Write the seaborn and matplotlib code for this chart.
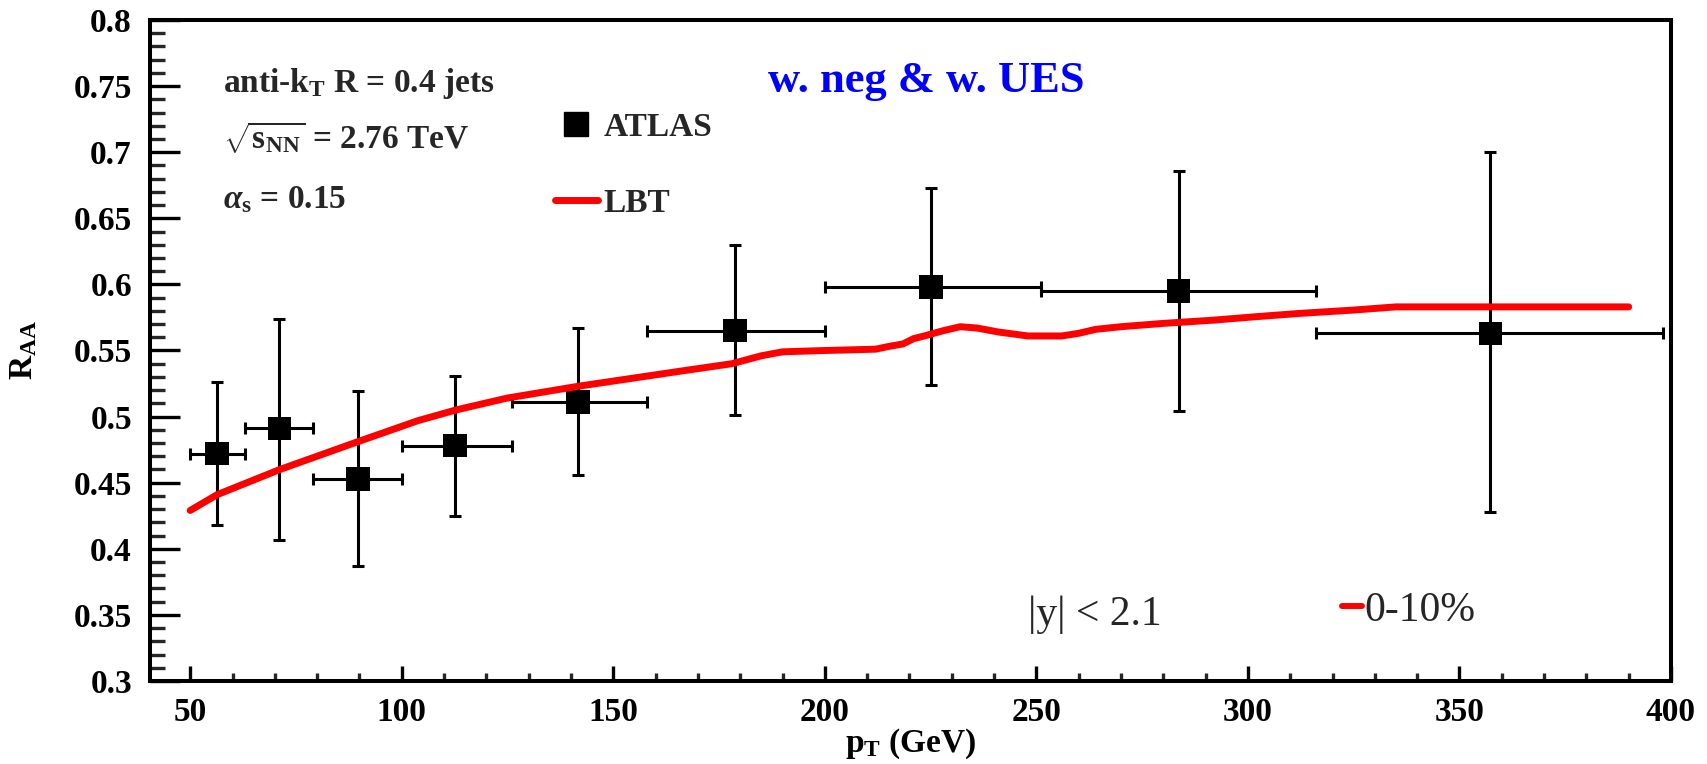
import matplotlib
matplotlib.use("Agg")
import matplotlib.pyplot as plt
from matplotlib.lines import Line2D
from matplotlib.ticker import MultipleLocator, FormatStrFormatter
import pandas as pd
import seaborn as sns

# ATLAS jet R_AA, 0-10% centrality, anti-kT R = 0.4, |y| < 2.1
pt_edges = [50, 63, 79, 100, 126, 158, 200, 251, 316, 398]
pt_atlas = [56.4, 71.1, 89.6, 112.6, 141.6, 178.7, 225.1, 283.6, 357.3]
raa_atlas = [0.472, 0.491, 0.453, 0.478, 0.511, 0.565, 0.598, 0.595, 0.563]
raa_high = [0.526, 0.574, 0.519, 0.531, 0.567, 0.630, 0.673, 0.686, 0.700]
raa_low = [0.418, 0.407, 0.387, 0.425, 0.456, 0.501, 0.524, 0.504, 0.428]

# LBT calculation
pt_lbt = [50.0, 56.4, 71.2, 89.6, 103.9, 112.8, 124.9, 141.8, 156.6, 167.2,
          178, 185, 190, 200, 212, 215, 218.5, 221, 223.5, 228,
          232, 236, 241, 248, 256, 260, 264, 270, 280, 292, 302, 312, 325,
          335, 345, 360, 375, 390]
raa_lbt = [0.429, 0.441, 0.460, 0.481, 0.497, 0.505, 0.514, 0.523, 0.530, 0.535,
           0.540, 0.546, 0.549, 0.550, 0.551, 0.553, 0.555, 0.559,
           0.561, 0.565, 0.568, 0.567, 0.564, 0.561, 0.561, 0.563, 0.566, 0.568,
           0.5705, 0.573, 0.5756, 0.578, 0.5806, 0.583, 0.583, 0.583, 0.583, 0.583]

atlas = pd.DataFrame({"pt": pt_atlas, "raa": raa_atlas,
                      "lo": pt_edges[:-1], "hi": pt_edges[1:],
                      "ylo": raa_low, "yhi": raa_high})
lbt = pd.DataFrame({"pt": pt_lbt, "raa": raa_lbt})

sns.set_theme(style="white")
plt.rcParams.update({
    "font.family": ["Liberation Serif", "DejaVu Serif"],
    "font.weight": "bold",
    "mathtext.fontset": "custom",
    "mathtext.rm": "Liberation Serif:bold",
    "mathtext.it": "Liberation Serif:italic:bold",
    "mathtext.bf": "Liberation Serif:bold",
    "axes.linewidth": 2.9,
    "axes.edgecolor": "black",
    "xtick.direction": "in",
    "ytick.direction": "in",
})

fig = plt.figure(figsize=(17.08, 7.64), dpi=100)
ax = fig.add_axes([150 / 1708, 1 - 681 / 764, 1521 / 1708, 661 / 764])

# data points with bin-width horizontal bars
ax.errorbar(atlas["pt"], atlas["raa"],
            xerr=[atlas["pt"] - atlas["lo"], atlas["hi"] - atlas["pt"]],
            yerr=[atlas["raa"] - atlas["ylo"], atlas["yhi"] - atlas["raa"]],
            fmt="none", ecolor="black", elinewidth=2.2, capsize=4.6,
            capthick=2.2, zorder=3)
sns.scatterplot(data=atlas, x="pt", y="raa", marker="s", s=17 ** 2,
                color="black", edgecolor="none", ax=ax, zorder=4)
sns.lineplot(data=lbt, x="pt", y="raa", color="red", linewidth=5.0,
             ax=ax, zorder=5, sort=False)

ax.set_xlim(40.5, 400)
ax.set_ylim(0.3, 0.8)
ax.xaxis.set_major_locator(MultipleLocator(50))
ax.xaxis.set_minor_locator(MultipleLocator(10))
ax.yaxis.set_major_locator(MultipleLocator(0.05))
ax.yaxis.set_minor_locator(MultipleLocator(0.01))
ax.yaxis.set_major_formatter(FormatStrFormatter("%g"))
ax.xaxis.set_major_formatter(FormatStrFormatter("%g"))

ax.tick_params(axis="both", top=False, right=False, colors="black",
               labelsize=24, width=2.4)
ax.tick_params(axis="y", which="major", length=21.6, pad=13, left=True)
ax.tick_params(axis="y", which="minor", length=10.8, width=2.4, left=True)
ax.tick_params(axis="x", which="major", length=10.8, pad=11.5, bottom=True)
ax.tick_params(axis="x", which="minor", length=5.8, width=2.4, bottom=True)
for lab in ax.get_xticklabels() + ax.get_yticklabels():
    lab.set_fontweight("bold")

ax.set_xlabel(r"p$_{\mathrm{T}}$ (GeV)", fontsize=24, fontweight="bold",
              color="black", labelpad=-1)
ax.set_ylabel(r"R$_{\mathrm{AA}}$", fontsize=24, fontweight="bold",
              color="black", labelpad=25)

# annotations
ax.text(0.048, 0.891, r"anti-k$_{\mathrm{T}}$ R = 0.4 jets", transform=ax.transAxes,
        fontsize=24, fontweight="bold", va="baseline", ha="left")
ax.text(0.048, 0.806, r"$\sqrt{\mathrm{s}_{\mathrm{NN}}}$ = 2.76 TeV",
        transform=ax.transAxes, fontsize=24, fontweight="bold",
        va="baseline", ha="left")
ax.text(0.048, 0.716, r"$\alpha_{\mathrm{s}}$ = 0.15", transform=ax.transAxes,
        fontsize=24, fontweight="bold", va="baseline", ha="left")
ax.text(0.406, 0.891, "w. neg & w. UES", transform=ax.transAxes,
        fontsize=32, fontweight="bold", color="blue", va="baseline", ha="left")
ax.text(0.577, 0.085, "|y| < 2.1", transform=ax.transAxes,
        fontsize=30, fontweight="normal", va="baseline", ha="left")

handles = [Line2D([], [], color="black", marker="s", markersize=17,
                  linestyle="none"),
           Line2D([], [], color="red", linewidth=5.0)]
leg = ax.legend(handles, ["ATLAS", "LBT"], loc="center left",
                bbox_to_anchor=(0.266, 0.780), frameon=False,
                handlelength=1.29, handletextpad=0.18, labelspacing=1.35,
                borderpad=0, borderaxespad=0,
                prop={"weight": "bold", "size": 24})
ax.add_artist(leg)

cent = ax.legend([Line2D([], [], color="red", linewidth=4.3)], ["0-10%"],
                 loc="center left", bbox_to_anchor=(0.784, 0.107),
                 frameon=False, handlelength=0.46, handletextpad=0.07,
                 borderpad=0, borderaxespad=0,
                 prop={"weight": "normal", "size": 30})

fig.savefig("out.png", dpi=100)
